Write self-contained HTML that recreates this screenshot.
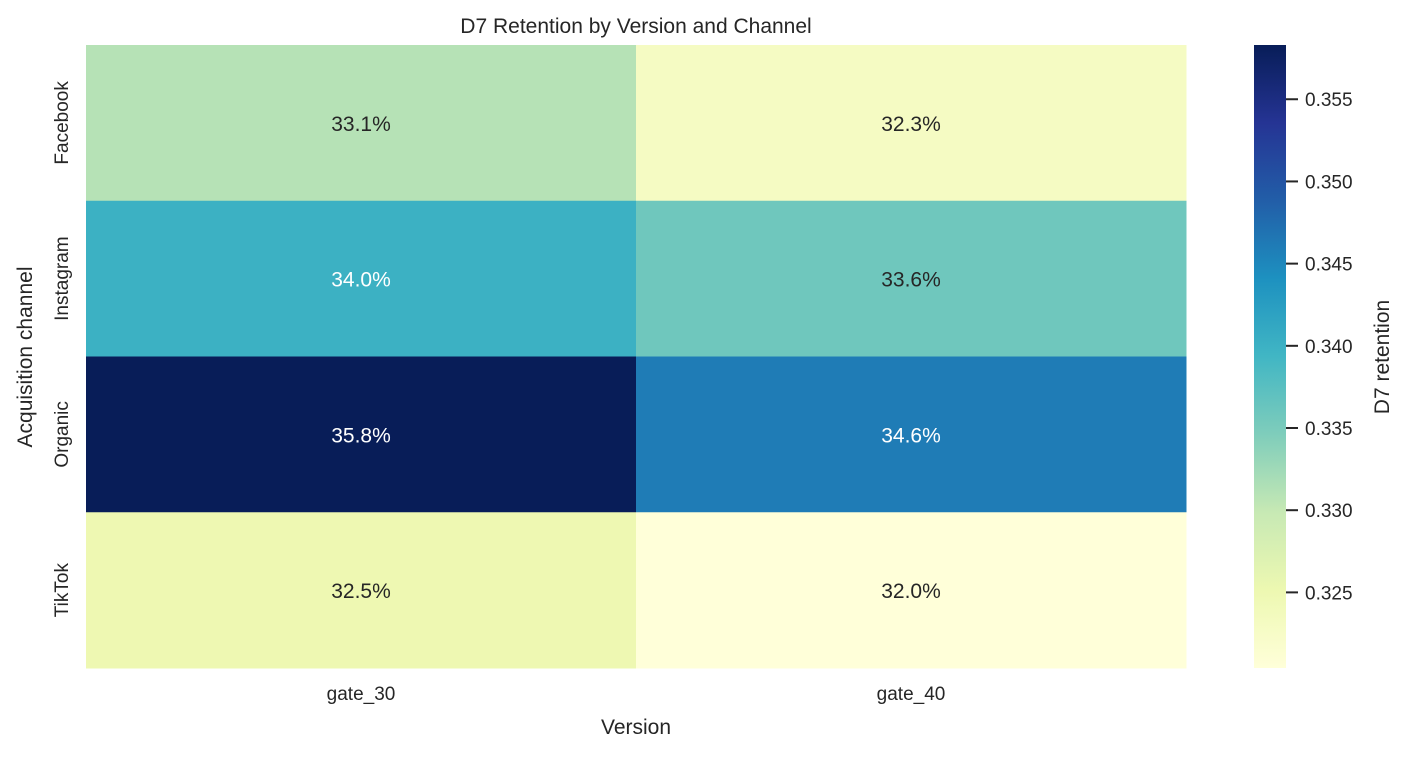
<!DOCTYPE html>
<html><head><meta charset="utf-8"><style>
body{margin:0;background:#fff;}
svg text{font-family:"Liberation Sans","DejaVu Sans",sans-serif;fill:#262626;}
</style></head><body>
<svg id="chart" width="1408" height="755" xmlns="http://www.w3.org/2000/svg">
<defs><linearGradient id="cbgrad" x1="0" y1="1" x2="0" y2="0"></linearGradient></defs>
<text x="636" y="33" font-size="21" text-anchor="middle">D7 Retention by Version and Channel</text>
<g id="cells"></g>
<g id="xticks"></g>
<g id="yticks"></g>
<text x="636" y="734" font-size="21" text-anchor="middle">Version</text>
<text transform="translate(32,357) rotate(-90)" font-size="21" text-anchor="middle">Acquisition channel</text>
<rect x="1254" y="45" width="32" height="623" fill="url(#cbgrad)"/>
<g id="cbticks"></g>
<text transform="translate(1389,357) rotate(-90)" font-size="21" text-anchor="middle">D7 retention</text>
</svg>
<script>
const versions = ["gate_30","gate_40"];
const channels = ["Facebook","Instagram","Organic","TikTok"];
const gate30 = [0.331, 0.340, 0.3583, 0.325];
const gate40 = [0.323, 0.3358, 0.346, 0.3204];
const cbTicks = [0.325,0.330,0.335,0.340,0.345,0.350,0.355];
const vmin = 0.3204, vmax = 0.3583;
const cmap = ["#ffffd9","#edf8b1","#c7e9b4","#7fcdbb","#41b6c4","#1d91c0","#225ea8","#253494","#081d58"];
const NS="http://www.w3.org/2000/svg";
const X0=86,X1=1186,Y0=45,Y1=668;
const cw=(X1-X0)/versions.length, ch=(Y1-Y0)/channels.length;
function hex(h){return [1,3,5].map(i=>parseInt(h.substr(i,2),16));}
function color(t){t=Math.max(0,Math.min(1,t));const p=t*(cmap.length-1),i=Math.min(Math.floor(p),cmap.length-2),f=p-i;
const a=hex(cmap[i]),b=hex(cmap[i+1]);return "rgb("+a.map((v,k)=>Math.round(v+(b[k]-v)*f)).join(",")+")";}
function norm(v){return (v-vmin)/(vmax-vmin);}
function cbY(v){return Y1-norm(v)*(Y1-Y0);}
const grad=document.getElementById("cbgrad");
cmap.forEach((c,i)=>{const s=document.createElementNS(NS,"stop");s.setAttribute("offset",i/(cmap.length-1));s.setAttribute("stop-color",c);grad.appendChild(s);});
const cells=document.getElementById("cells");
const series=[gate30,gate40];
series.forEach((vals,ci)=>{vals.forEach((v,ri)=>{
 const r=document.createElementNS(NS,"rect");
 r.setAttribute("x",X0+ci*cw);r.setAttribute("y",Y0+ri*ch);r.setAttribute("width",cw+0.5);r.setAttribute("height",ch+0.5);
 r.setAttribute("fill",color(norm(v)));
 
 
 cells.appendChild(r);
 const t=document.createElementNS(NS,"text");
 t.setAttribute("x",X0+(ci+0.5)*cw);t.setAttribute("y",Y0+(ri+0.5)*ch+8);t.setAttribute("font-size","21");t.setAttribute("text-anchor","middle");
 t.style.fill=norm(v)>0.5?"#ffffff":"#262626";
 t.textContent=(v*100).toFixed(1)+"%";
 
 
 cells.appendChild(t);
});});
const xt=document.getElementById("xticks");
versions.forEach((v,i)=>{const t=document.createElementNS(NS,"text");
 t.setAttribute("x",X0+(i+0.5)*cw);t.setAttribute("y",700);t.setAttribute("font-size","19");t.setAttribute("text-anchor","middle");t.textContent=v;
 
 
 xt.appendChild(t);});
const yt=document.getElementById("yticks");
channels.forEach((c,i)=>{const t=document.createElementNS(NS,"text");
 const y=Y0+(i+0.5)*ch;
 t.setAttribute("transform","translate(68,"+y+") rotate(-90)");t.setAttribute("font-size","19");t.setAttribute("text-anchor","middle");t.textContent=c;
 
 
 yt.appendChild(t);});
const cb=document.getElementById("cbticks");
cbTicks.forEach(v=>{const y=cbY(v);
 const l=document.createElementNS(NS,"line");
 l.setAttribute("x1",1286);l.setAttribute("x2",1298);l.setAttribute("y1",y);l.setAttribute("y2",y);l.setAttribute("stroke","#262626");l.setAttribute("stroke-width","2");
 
 
 cb.appendChild(l);
 const t=document.createElementNS(NS,"text");
 t.setAttribute("x",1305);t.setAttribute("y",y+7);t.setAttribute("font-size","19");t.textContent=v.toFixed(3);
 
 
 cb.appendChild(t);});
</script>
</body></html>
